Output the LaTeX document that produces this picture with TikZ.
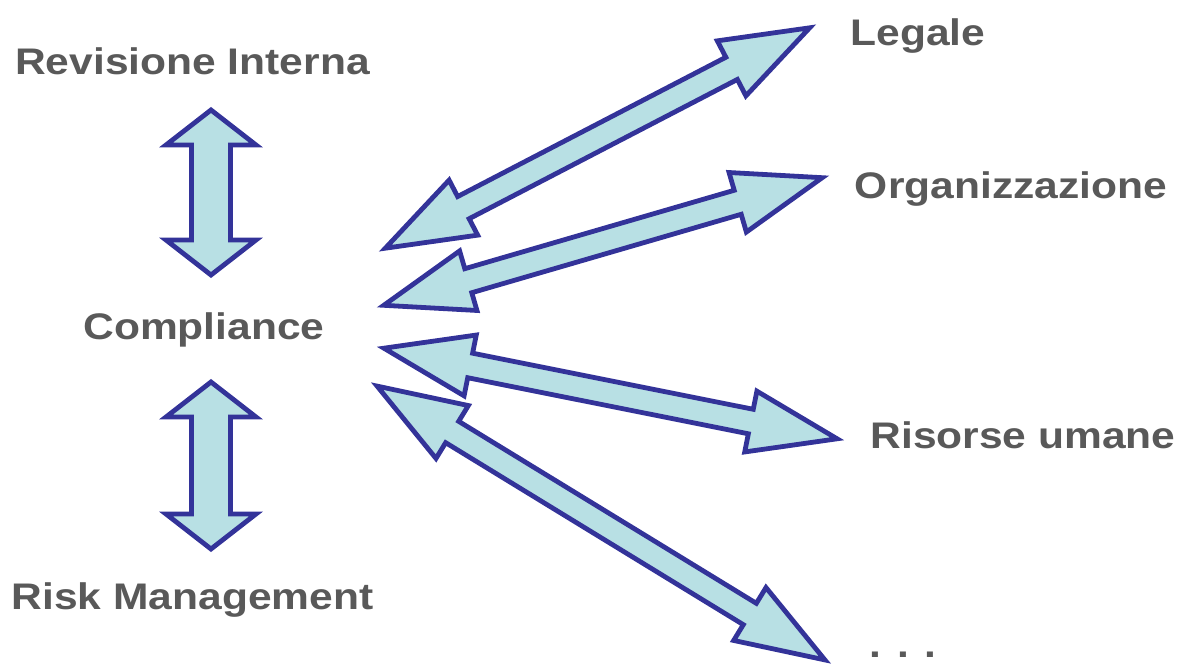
\documentclass[tikz,border=0pt]{standalone}
\usepackage{fontspec}
\newfontfamily\lab{Liberation Sans}[FakeStretch=1.15]
\usetikzlibrary{calc}
\definecolor{arrfill}{RGB}{184,224,228}
\definecolor{arrline}{RGB}{51,51,153}
\definecolor{txt}{RGB}{89,89,89}
\tikzset{
  blockarr/.style={draw=arrline, fill=arrfill, line width=4.8pt, line join=miter, miter limit=20},
  lbl/.style={text=txt, font=\lab\bfseries\fontsize{37}{40}\selectfont, inner sep=0pt, anchor=base}
}
\newcommand{\dblarr}[5]{% A, B, head length, head half width, shaft half width
  \draw[blockarr] (#1) -- ($(#1)!#3!(#2)!#4!90:(#2)$) -- ($(#1)!#3!(#2)!#5!90:(#2)$)
    -- ($(#2)!#3!(#1)!#5!-90:(#1)$) -- ($(#2)!#3!(#1)!#4!-90:(#1)$) -- (#2)
    -- ($(#2)!#3!(#1)!#4!90:(#1)$) -- ($(#2)!#3!(#1)!#5!90:(#1)$)
    -- ($(#1)!#3!(#2)!#5!-90:(#2)$) -- ($(#1)!#3!(#2)!#4!-90:(#2)$) -- cycle;}
\begin{document}
\begin{tikzpicture}[x=1pt,y=-1pt]
\useasboundingbox (0,0) rectangle (1179,664);
% labels
\node[lbl] (rev) at (192.5,74) {Revisione Interna};
\node[lbl] (comp) at (204,339) {Compliance};
\node[lbl] (risk) at (192.5,609) {Risk Management};
\node[lbl] (leg) at (918,45) {Legale};
\node[lbl] (org) at (1011,198) {Organizzazione};
\node[lbl] (hr) at (1023,448) {Risorse umane};
\node[lbl] (etc) at (903,657) {. . .};
% arrow end points
\coordinate (v1a) at (211,110);
\coordinate (v1b) at (211,275);
\coordinate (v2a) at (211,382);
\coordinate (v2b) at (211,549);
\coordinate (d1a) at (385.3,248.2);
\coordinate (d1b) at (809.7,27.8);
\coordinate (d2a) at (383.8,305.3);
\coordinate (d2b) at (822.2,177.7);
\coordinate (d3a) at (383.9,348.2);
\coordinate (d3b) at (837.1,438.8);
\coordinate (d4a) at (377.1,386.1);
\coordinate (d4b) at (824.9,659.9);
% arrows
\dblarr{v1a}{v1b}{35pt}{45pt}{19.5pt}
\dblarr{v2a}{v2b}{35pt}{45pt}{19.5pt}
\dblarr{d1a}{d1b}{88pt}{31pt}{12.5pt}
\dblarr{d2a}{d2b}{88pt}{31pt}{12.5pt}
\dblarr{d3a}{d3b}{88pt}{31pt}{12.5pt}
\dblarr{d4a}{d4b}{88pt}{31pt}{12.5pt}
\end{tikzpicture}
\end{document}
